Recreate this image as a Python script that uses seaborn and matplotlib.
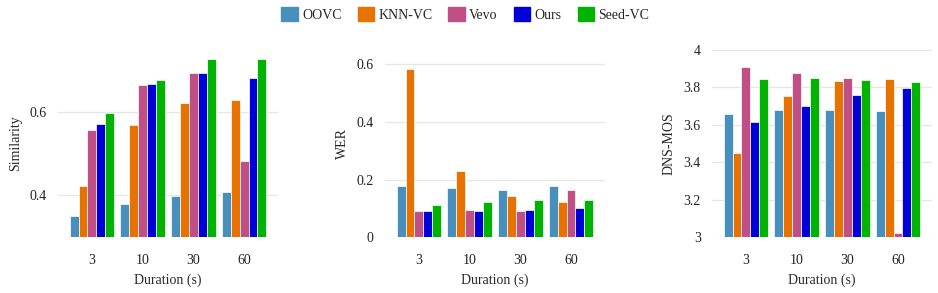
import matplotlib
matplotlib.use('Agg')
import matplotlib.pyplot as plt
from matplotlib.ticker import MultipleLocator, FuncFormatter
import seaborn as sns
import pandas as pd

durations = ['3', '10', '30', '60']
methods = ['OOVC', 'KNN-VC', 'Vevo', 'Ours', 'Seed-VC']
colors = ['#4790bd', '#e87200', '#c04f86', '#0000d9', '#00b300']

# values per method, ordered by duration 3, 10, 30, 60
similarity = {
    'OOVC':    [0.351, 0.380, 0.399, 0.408],
    'KNN-VC':  [0.422, 0.569, 0.622, 0.631],
    'Vevo':    [0.558, 0.666, 0.695, 0.484],
    'Ours':    [0.571, 0.669, 0.695, 0.684],
    'Seed-VC': [0.599, 0.677, 0.729, 0.728],
}
wer = {
    'OOVC':    [0.177, 0.171, 0.164, 0.178],
    'KNN-VC':  [0.586, 0.229, 0.142, 0.123],
    'Vevo':    [0.090, 0.095, 0.090, 0.164],
    'Ours':    [0.091, 0.091, 0.095, 0.102],
    'Seed-VC': [0.111, 0.121, 0.129, 0.129],
}
dnsmos = {
    'OOVC':    [3.660, 3.678, 3.680, 3.674],
    'KNN-VC':  [3.452, 3.756, 3.836, 3.845],
    'Vevo':    [3.909, 3.879, 3.849, 3.023],
    'Ours':    [3.617, 3.703, 3.758, 3.795],
    'Seed-VC': [3.843, 3.849, 3.840, 3.831],
}


def to_long(d):
    rows = []
    for m in methods:
        for dur, v in zip(durations, d[m]):
            rows.append({'Duration': dur, 'Method': m, 'value': v})
    return pd.DataFrame(rows)


sns.set_theme(style='whitegrid')
plt.rcParams['font.family'] = ['Liberation Serif', 'DejaVu Serif']
plt.rcParams['font.size'] = 10

fig, axes = plt.subplots(1, 3, figsize=(9.38, 2.93), dpi=100)
fig.subplots_adjust(left=0.0618, right=0.9936, bottom=0.191, top=0.829, wspace=0.486)

panels = [
    (similarity, 'Similarity', (0.3, 0.75)),
    (wer, 'WER', (0, 0.65)),
    (dnsmos, 'DNS-MOS', (3, 4)),
]

fmt = FuncFormatter(lambda v, p: '{:g}'.format(round(v, 3)))

for ax, (data, label, ylim) in zip(axes, panels):
    df = to_long(data)
    sns.barplot(data=df, x='Duration', y='value', hue='Method', order=durations,
                hue_order=methods, palette=colors, saturation=1, width=0.88,
                edgecolor='white', linewidth=0.5, legend=False, ax=ax)
    ax.set_ylim(*ylim)
    ax.set_xlim(-0.67, 3.67)
    ax.yaxis.set_major_locator(MultipleLocator(0.2))
    ax.yaxis.set_major_formatter(fmt)
    ax.grid(axis='x', visible=False)
    ax.grid(axis='y', color='#e6e6e6', linewidth=0.9)
    for s in ax.spines.values():
        s.set_visible(False)
    ax.tick_params(axis='x', pad=6, labelsize=10, colors='#222222')
    ax.tick_params(axis='y', pad=2, labelsize=10, colors='#222222')
    ax.set_xlabel('Duration (s)', fontsize=10, labelpad=5)
    ax.set_ylabel(label, fontsize=10)
    ax.yaxis.set_label_coords(-0.165, 0.5)

handles = [plt.Rectangle((0, 0), 1, 1, color=c) for c in colors]
fig.legend(handles, methods, loc='center', bbox_to_anchor=(0.496, 0.95), ncol=5,
           frameon=False, fontsize=10, handlelength=1.2, handleheight=1.2,
           handletextpad=0.3, columnspacing=1.15)

fig.savefig('out.png', dpi=100)
